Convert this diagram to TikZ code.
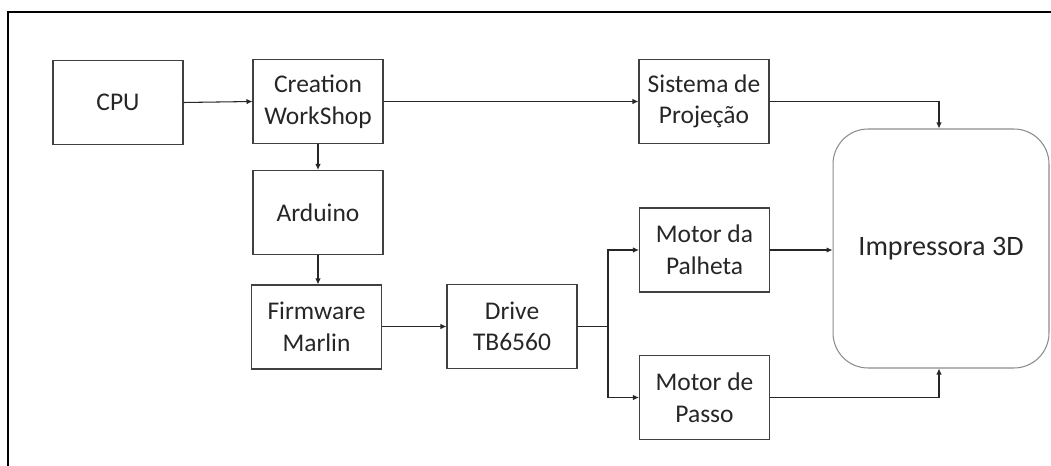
\documentclass[tikz,border=0pt]{standalone}
\usepackage{fontspec}
\setmainfont{Carlito}
\usepackage{tikz}
\usetikzlibrary{arrows.meta, positioning, calc}
\tikzset{
    bloco/.style  = {draw=black!75, line width=0.6pt, align=center,
                     minimum width=2.6cm, minimum height=1.68cm, inner sep=2pt,
                     font=\fontsize{14.5}{18}\selectfont, text=black!85},
    impr/.style   = {draw=black!45, line width=0.6pt, rounded corners=0.7cm,
                     minimum width=4.32cm, minimum height=4.78cm,
                     font=\fontsize{16}{19}\selectfont, text=black!85},
    lig/.style    = {-{Latex[length=1.2mm, width=1.1mm]}, line width=0.6pt, black!85},
    seg/.style    = {line width=0.6pt, black!85},
}
\begin{document}
\begin{tikzpicture}[x=0.02cm, y=-0.02cm]
    \useasboundingbox (0,0) rectangle (1051,466);
    % moldura
    \draw[line width=1.2pt] (8,466) -- (8,12) -- (1051,12);
    % blocos
    \node[bloco] (cpu) at (118,102.5) {CPU};
    \node[bloco] (cws) at (318,101.5) {Creation\\WorkShop};
    \node[bloco] (ard) at (318,212.5) {Arduino};
    \node[bloco] (fw)  at (316.5,327) {Firmware\\Marlin};
    \node[bloco] (drv) at (512,326.5) {Drive\\TB6560};
    \node[bloco] (sis) at (704,101.5) {Sistema de\\Projeção};
    \node[bloco] (pal) at (704.5,250) {Motor da\\Palheta};
    \node[bloco] (pas) at (704.5,397.5) {Motor de\\Passo};
    \node[impr]  (imp) at (941,248.5) {Impressora 3D};
    % ligacoes
    \draw[lig] (cpu.east) -- (cws.west);
    \draw[lig] (cws.east) -- (sis.west);
    \draw[lig] (cws.south) -- (ard.north);
    \draw[lig] (ard.south) -- (ard.south |- fw.north);
    \draw[lig] (fw.east |- drv.west) -- (drv.west);
    \coordinate (fork) at (608,326.5);
    \draw[seg] (drv.east) -- (fork);
    \draw[lig] (fork) |- (pal.west);
    \draw[lig] (fork) |- (pas.west);
    \draw[lig] (pal.east) -- (pal.east -| imp.west);
    \draw[lig] (sis.east) -| ($(imp.north)+(-2,0)$);
    \draw[lig] (pas.east) -| ($(imp.south)+(-2,0)$);
\end{tikzpicture}
\end{document}
